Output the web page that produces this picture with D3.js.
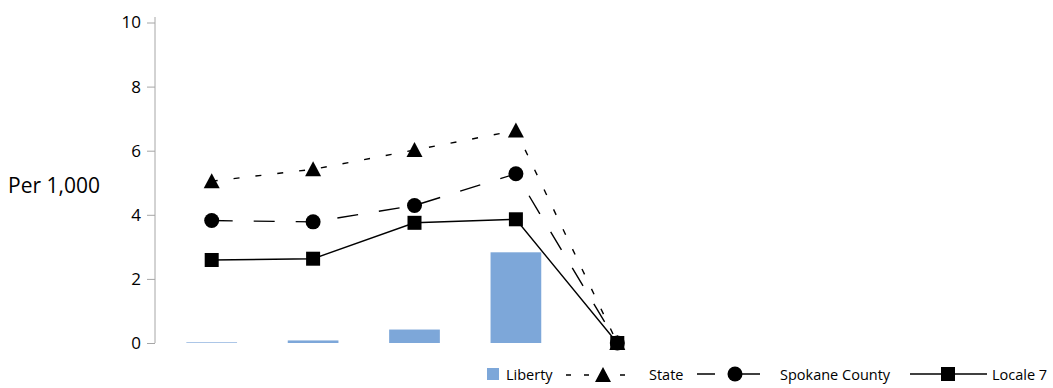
<!DOCTYPE html>
<html><head><meta charset="utf-8">
<script src="https://cdn.jsdelivr.net/npm/d3@7"></script>
<style>body{margin:0;background:#fff}svg{display:block}</style>
</head><body>
<svg id="c" width="1053" height="388"></svg>
<script>
const categories = ["1","2","3","4","5"];
const liberty = [0.02, 0.08, 0.42, 2.83, 0];
const state = [5.05, 5.42, 6.02, 6.63, 0];
const spokane = [3.82, 3.78, 4.29, 5.28, 0];
const locale7 = [2.59, 2.63, 3.75, 3.86, 0];
const yTicks = [0, 2, 4, 6, 8, 10];
const yLabel = "Per 1,000";

const svg = d3.select("#c");
const x = d3.scaleBand().domain(categories).range([161, 668]).paddingInner(0.5).paddingOuter(0.25);
const y = d3.scaleLinear().domain([0, 10]).range([343, 22.5]);
const cx = c => x(c) + x.bandwidth()/2;

// axis
const ax = svg.append("g").attr("transform","translate(155,0)")
  .call(d3.axisLeft(y).tickValues(yTicks).tickSize(8).tickSizeOuter(0));
ax.select(".domain").attr("stroke","#a6a6a6").attr("d","M0,17V343");
ax.selectAll(".tick line").attr("stroke","#a6a6a6");
ax.selectAll(".tick text").attr("font-family","Open Sans, sans-serif").attr("font-size",17).attr("fill","#000").attr("x",-14);

svg.append("text").attr("x",8).attr("y",193).attr("font-family","Open Sans, sans-serif").attr("font-size",21).attr("fill","#000").text(yLabel);

const barColor = "#7da7d9";
svg.append("g").selectAll("rect").data(categories).join("rect")
  .attr("x", c => x(c)).attr("width", x.bandwidth())
  .attr("y", (c,i) => y(liberty[i])).attr("height", (c,i) => y(0) - y(liberty[i]))
  .attr("fill", barColor);

const line = d3.line().x((d,i) => cx(categories[i])).y(d => y(d));
const series = [
  {vals: state, dash: "6,16", marker: "triangle"},
  {vals: spokane, dash: "21,21", marker: "circle"},
  {vals: locale7, dash: null, marker: "square"}
];
function drawMarker(g, type, px, py) {
  if (type === "triangle") g.append("path").attr("d", `M${px},${py-8}L${px+8},${py+7}L${px-8},${py+7}Z`).attr("fill","#000");
  else if (type === "circle") g.append("circle").attr("cx",px).attr("cy",py).attr("r",7.5).attr("fill","#000");
  else g.append("rect").attr("x",px-7).attr("y",py-7).attr("width",14).attr("height",14).attr("fill","#000");
}
series.forEach(s => {
  svg.append("path").datum(s.vals).attr("d", line).attr("fill","none").attr("stroke","#000")
    .attr("stroke-width",1.4).attr("stroke-dasharray", s.dash);
});
series.forEach(s => {
  const g = svg.append("g");
  s.vals.forEach((v,i) => drawMarker(g, s.marker, cx(categories[i]), y(v)));
});

// legend
const lg = svg.append("g").attr("font-family","Open Sans, sans-serif").attr("font-size",14.5).attr("fill","#000");
lg.append("rect").attr("x",487).attr("y",368).attr("width",12).attr("height",12).attr("fill",barColor);
lg.append("text").attr("x",506).attr("y",380).text("Liberty");
lg.append("path").attr("d","M566,375H638").attr("stroke","#000").attr("stroke-width",1.4).attr("stroke-dasharray","5,13");
drawMarker(lg, "triangle", 603, 375);
lg.append("text").attr("x",649).attr("y",380).text("State");
lg.append("path").attr("d","M697,374H715M742,374H760").attr("stroke","#000").attr("stroke-width",1.4);
drawMarker(lg, "circle", 735, 374);
lg.append("text").attr("x",780).attr("y",380).text("Spokane County");
lg.append("path").attr("d","M910,374H987").attr("stroke","#000").attr("stroke-width",1.4);
drawMarker(lg, "square", 948, 374);
lg.append("text").attr("x",992).attr("y",380).text("Locale 7");
</script>
</body></html>
